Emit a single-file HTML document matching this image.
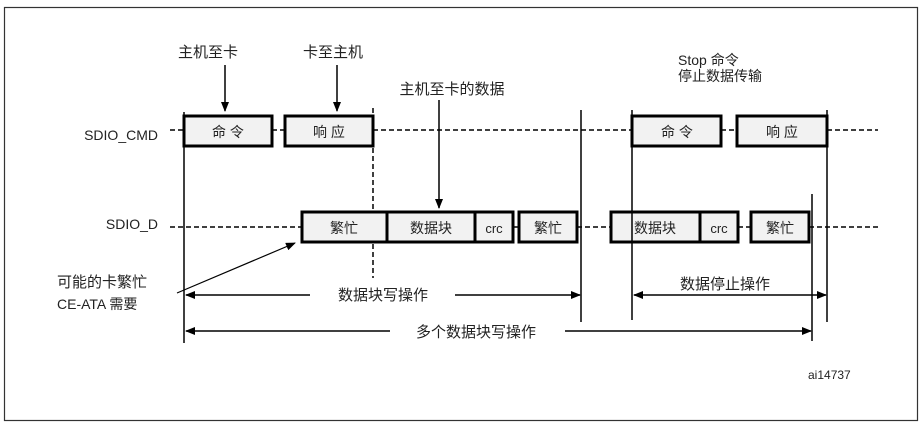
<!DOCTYPE html>
<html><head><meta charset="utf-8"><style>
html,body{margin:0;padding:0;background:#fff;}
svg{display:block;}
text{font-family:"Liberation Sans","Noto Sans CJK SC",sans-serif;fill:#222;}
</style></head><body>
<svg width="923" height="424" viewBox="0 0 923 424" xmlns="http://www.w3.org/2000/svg">
<defs>
<marker id="ah" markerWidth="10" markerHeight="8" refX="9" refY="4" orient="auto" markerUnits="userSpaceOnUse">
<path d="M0,0 L10,4 L0,8 z" fill="#000"/></marker>
</defs>
<rect x="4.5" y="7.5" width="913" height="413" fill="#fff" stroke="#333" stroke-width="1.2"/>

<!-- signal labels -->
<text x="158" y="140" font-size="14" text-anchor="end">SDIO_CMD</text>
<text x="158" y="229" font-size="14" text-anchor="end">SDIO_D</text>

<!-- dashed lines -->
<g stroke="#000" stroke-width="1.5" stroke-dasharray="5,3">
<line x1="170" y1="130" x2="184" y2="130"/>
<line x1="272" y1="130" x2="285" y2="130"/>
<line x1="373" y1="130" x2="632" y2="130"/>
<line x1="721" y1="130" x2="737" y2="130"/>
<line x1="827" y1="130" x2="878" y2="130"/>
<line x1="170" y1="227" x2="302" y2="227"/>
<line x1="577" y1="227" x2="611" y2="227"/>
<line x1="738" y1="227" x2="751" y2="227"/>
<line x1="809" y1="227" x2="878" y2="227"/>
<line x1="373" y1="108" x2="373" y2="278"/>
</g>

<!-- boxes -->
<g stroke="#000" stroke-width="3" fill="#f2f2f2">
<rect x="184" y="116" width="88" height="30"/>
<rect x="285" y="116" width="88" height="30"/>
<rect x="632" y="116" width="89" height="30"/>
<rect x="737" y="116" width="90" height="30"/>
<rect x="302" y="212" width="85" height="30"/>
<rect x="387" y="212" width="88" height="30"/>
<rect x="475" y="212" width="38" height="30"/>
<rect x="519" y="212" width="58" height="30"/>
<rect x="611" y="212" width="89" height="30"/>
<rect x="700" y="212" width="38" height="30"/>
<rect x="751" y="212" width="58" height="30"/>
</g>
<line x1="513" y1="227" x2="519" y2="227" stroke="#000" stroke-width="1.5"/>

<g font-size="14" text-anchor="middle">
<text x="228" y="137">命 令</text>
<text x="329" y="137">响 应</text>
<text x="677" y="137">命 令</text>
<text x="782" y="137">响 应</text>
<text x="344" y="233">繁忙</text>
<text x="431" y="233">数据块</text>
<text x="494" y="233" font-size="13">crc</text>
<text x="548" y="233">繁忙</text>
<text x="655" y="233">数据块</text>
<text x="719" y="233" font-size="13">crc</text>
<text x="780" y="233">繁忙</text>
</g>

<!-- vertical lines -->
<g stroke="#000" stroke-width="1.5">
<line x1="184" y1="112" x2="184" y2="343"/>
<line x1="581" y1="110" x2="581" y2="322"/>
<line x1="632" y1="110" x2="632" y2="320"/>
<line x1="827" y1="110" x2="827" y2="322"/>
<line x1="812" y1="194" x2="812" y2="341"/>
</g>

<!-- top labels and arrows -->
<g font-size="15" text-anchor="middle">
<text x="208" y="57">主机至卡</text>
<text x="333" y="57">卡至主机</text>
<text x="452" y="94">主机至卡的数据</text>
</g>
<text x="678" y="65" font-size="14">Stop 命令</text>
<text x="678" y="81" font-size="14">停止数据传输</text>
<g stroke="#000" stroke-width="1.5" marker-end="url(#ah)">
<line x1="225" y1="65" x2="225" y2="111"/>
<line x1="337" y1="65" x2="337" y2="111"/>
<line x1="439" y1="100" x2="439" y2="208"/>
</g>

<!-- left note -->
<text x="57" y="287" font-size="15">可能的卡繁忙</text>
<text x="57" y="309" font-size="14">CE-ATA 需要</text>
<line x1="177" y1="293" x2="295" y2="243" stroke="#000" stroke-width="1.2" marker-end="url(#ah)"/>

<!-- span arrows -->
<g stroke="#000" stroke-width="1.5">
<line x1="310" y1="295" x2="186" y2="295" marker-end="url(#ah)"/>
<line x1="455" y1="295" x2="580" y2="295" marker-end="url(#ah)"/>
<line x1="390" y1="331" x2="186" y2="331" marker-end="url(#ah)"/>
<line x1="565" y1="331" x2="811" y2="331" marker-end="url(#ah)"/>
<line x1="811" y1="295" x2="634" y2="295" marker-end="url(#ah)"/>
<line x1="811" y1="295" x2="826" y2="295" marker-end="url(#ah)"/>
</g>
<g font-size="15" text-anchor="middle">
<text x="383" y="300">数据块写操作</text>
<text x="476" y="337">多个数据块写操作</text>
<text x="725" y="289">数据停止操作</text>
</g>
<text x="808" y="379" font-size="12">ai14737</text>
</svg>
</body></html>
